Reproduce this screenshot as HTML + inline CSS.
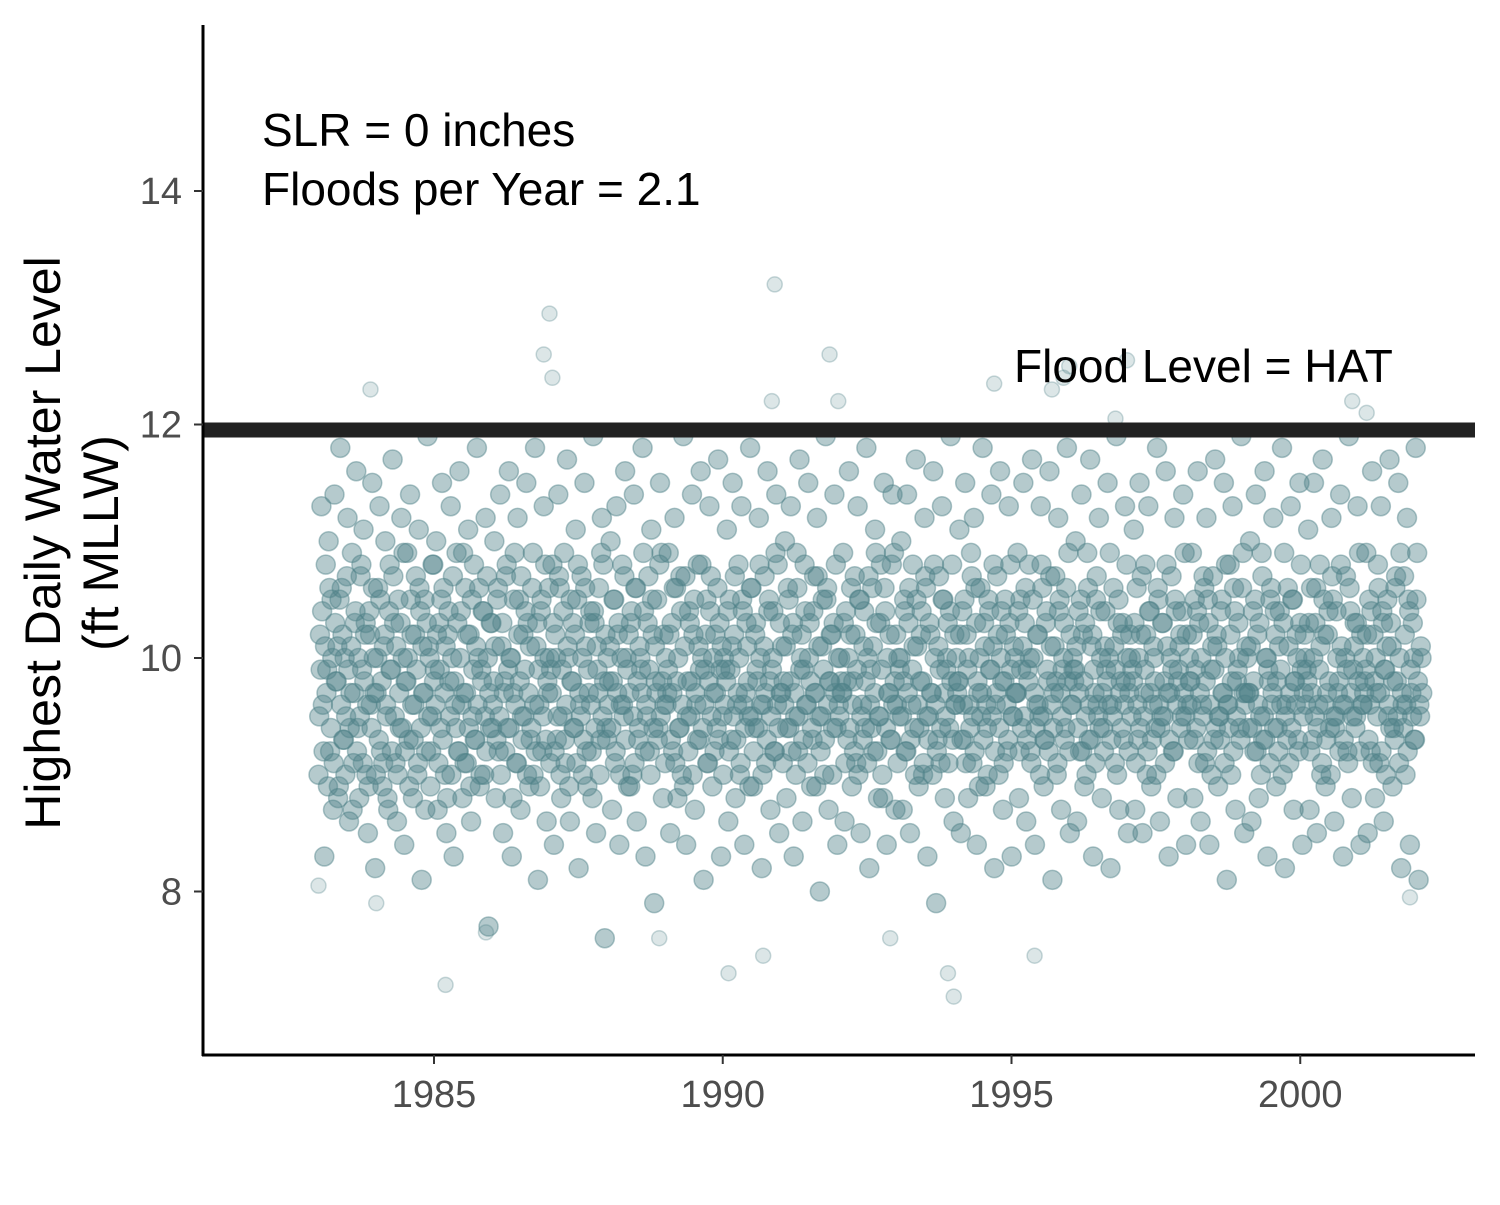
<!DOCTYPE html>
<html><head><meta charset="utf-8"><style>
html,body{margin:0;padding:0;background:#fff;}
svg text{font-family:"Liberation Sans",Arial,sans-serif;}
</style></head><body>
<svg id="chart" width="1500" height="1200" viewBox="0 0 1500 1200" xmlns="http://www.w3.org/2000/svg">
<g id="points"></g>
<line x1="203" x2="1475" y1="430" y2="430" stroke="#222" stroke-width="15"/>
<line x1="203" x2="203" y1="25" y2="1056" stroke="#000" stroke-width="3"/>
<line x1="202" x2="1475" y1="1055" y2="1055" stroke="#000" stroke-width="3"/>
<g id="yticks"></g>
<g id="xticks"></g>
<text x="262" y="146" font-size="46" fill="#000">SLR = 0 inches</text>
<text x="262" y="205" font-size="46" fill="#000">Floods per Year = 2.1</text>
<text x="1014" y="382" font-size="46" fill="#000">Flood Level = HAT</text>
<text transform="translate(60,543) rotate(-90)" text-anchor="middle" font-size="50" fill="#000">Highest Daily Water Level</text>
<text transform="translate(118,543) rotate(-90)" text-anchor="middle" font-size="50" fill="#000">(ft MLLW)</text>
</svg>
<script>
const yTicks=[8,10,12,14];
const xTicks=[1985,1990,1995,2000];
const startYear=1983.0;
const endYear=2002.1;
const values=[
9.0,10.2,11.3,9.6,8.3,10.8,9.9,11.0,9.2,10.5,8.7,11.4,9.8,10.1,8.9,11.8,10.6,9.3,10.0,9.5,11.2,8.6,9.7,10.9,9.1,10.3,11.6,9.4,8.8,10.7,9.9,11.1,10.2,9.0,8.5,10.4,9.6,11.5,10.0,8.2,
9.7,10.6,11.3,9.2,8.9,10.1,11.0,9.5,8.7,10.8,9.9,11.7,10.3,9.1,8.6,10.5,9.4,11.2,10.0,8.4,9.8,10.9,9.3,11.4,10.2,8.8,9.6,10.7,9.0,11.1,10.4,8.1,9.7,10.5,9.2,11.9,10.1,8.9,9.5,10.8,
9.9,11.0,8.7,10.3,9.4,11.5,10.6,9.0,8.5,10.2,9.8,11.3,10.0,8.3,9.6,10.9,9.2,11.6,10.4,8.8,9.7,10.6,9.1,11.1,10.2,8.6,9.5,10.8,9.3,11.8,10.0,8.9,9.9,10.4,9.0,11.2,10.7,7.7,9.4,10.3,
9.6,11.0,8.8,10.5,9.2,11.4,10.1,8.5,9.8,10.7,9.4,11.6,10.0,8.3,9.7,10.9,9.1,11.2,10.5,8.7,9.5,10.2,9.9,11.5,10.3,8.9,9.3,10.6,9.0,11.8,10.1,8.1,9.6,10.4,9.2,11.3,10.8,8.6,9.7,10.0,
9.9,10.8,8.4,10.2,9.3,11.4,10.6,8.8,9.5,10.9,9.1,11.7,10.0,8.6,9.8,10.3,9.4,11.1,10.5,8.2,9.6,10.7,9.0,11.5,10.1,8.9,9.7,10.4,9.2,11.9,10.3,8.5,9.9,10.6,9.3,11.2,10.8,7.6,9.4,10.0,
9.8,11.0,8.7,10.5,9.1,11.3,10.2,8.4,9.6,10.8,9.5,11.6,10.0,8.9,9.7,10.3,9.0,11.4,10.6,8.6,9.3,10.1,9.9,11.8,10.4,8.3,9.5,10.7,9.2,11.1,10.2,7.9,9.8,10.5,9.4,11.5,10.9,8.8,9.6,10.0,
9.7,10.9,8.5,10.3,9.2,11.2,10.6,8.8,9.4,10.7,9.0,11.9,10.1,8.4,9.8,10.4,9.5,11.4,10.2,8.7,9.6,10.8,9.3,11.6,10.0,8.1,9.9,10.5,9.1,11.3,10.7,8.9,9.7,10.2,9.4,11.7,10.3,8.3,9.5,10.0,
9.9,11.1,8.6,10.5,9.3,11.5,10.2,8.8,9.6,10.8,9.0,11.3,10.4,8.4,9.7,10.1,9.5,11.8,10.6,8.9,9.4,10.3,9.8,11.2,10.0,8.2,9.6,10.7,9.1,11.6,10.5,8.7,9.9,10.4,9.2,11.4,10.8,8.5,9.7,10.1,
9.8,11.0,8.8,10.6,9.4,11.3,10.2,8.3,9.5,10.9,9.2,11.7,10.0,8.6,9.9,10.4,9.6,11.5,10.3,8.9,9.3,10.7,9.7,11.2,10.1,8.0,9.5,10.5,9.0,11.9,10.6,8.7,9.8,10.2,9.4,11.4,10.8,8.4,9.6,10.0,
9.7,10.9,8.6,10.4,9.3,11.6,10.2,8.9,9.8,10.7,9.1,11.3,10.5,8.5,9.6,10.1,9.4,11.8,10.0,8.2,9.9,10.6,9.2,11.1,10.3,8.8,9.5,10.8,9.0,11.5,10.4,8.4,9.7,10.2,9.3,11.4,10.9,8.7,9.6,10.0,
9.9,11.0,8.7,10.5,9.2,11.4,10.3,8.5,9.6,10.8,9.4,11.7,10.1,8.9,9.8,10.4,9.0,11.2,10.6,8.3,9.5,10.2,9.7,11.6,10.0,7.9,9.3,10.7,9.1,11.3,10.5,8.8,9.9,10.3,9.4,11.9,10.8,8.6,9.6,10.0,
9.8,11.1,8.5,10.4,9.3,11.5,10.2,8.8,9.6,10.9,9.1,11.2,10.6,8.4,9.7,10.0,9.5,11.8,10.3,8.9,9.4,10.5,9.9,11.4,10.1,8.2,9.6,10.7,9.0,11.6,10.4,8.7,9.8,10.2,9.2,11.3,10.8,8.3,9.5,10.0,
9.7,10.9,8.8,10.5,9.4,11.5,10.3,8.6,9.9,10.8,9.2,11.7,10.0,8.4,9.6,10.2,9.5,11.3,10.6,8.9,9.3,10.4,9.8,11.6,10.1,8.1,9.7,10.7,9.0,11.2,10.5,8.7,9.9,10.3,9.4,11.8,10.9,8.5,9.6,10.0,
9.8,11.0,8.6,10.4,9.2,11.4,10.2,8.9,9.5,10.9,9.3,11.7,10.1,8.3,9.7,10.5,9.6,11.2,10.4,8.8,9.4,10.1,9.9,11.5,10.0,8.2,9.6,10.6,9.1,11.9,10.3,8.7,9.8,10.2,9.3,11.3,10.8,8.5,9.7,10.0,
9.9,11.1,8.7,10.6,9.3,11.5,10.2,8.5,9.7,10.8,9.0,11.3,10.4,8.9,9.6,10.0,9.4,11.8,10.5,8.6,9.5,10.3,9.8,11.6,10.1,8.3,9.7,10.7,9.2,11.2,10.4,8.8,9.9,10.2,9.5,11.4,10.9,8.4,9.6,10.0,
9.8,10.9,8.8,10.5,9.4,11.6,10.3,8.6,9.6,10.7,9.1,11.2,10.5,8.4,9.9,10.1,9.3,11.7,10.2,8.9,9.5,10.4,9.7,11.5,10.0,8.1,9.6,10.8,9.0,11.3,10.6,8.7,9.8,10.3,9.4,11.9,10.9,8.5,9.7,10.0,
9.7,11.0,8.6,10.4,9.2,11.4,10.2,8.8,9.5,10.9,9.3,11.6,10.0,8.3,9.8,10.5,9.6,11.2,10.4,8.9,9.4,10.1,9.9,11.8,10.3,8.2,9.6,10.6,9.1,11.3,10.5,8.7,9.8,10.2,9.3,11.5,10.8,8.4,9.7,10.0,
9.9,11.1,8.7,10.6,9.3,11.5,10.3,8.5,9.6,10.8,9.0,11.7,10.2,8.9,9.7,10.4,9.4,11.2,10.5,8.6,9.5,10.0,9.8,11.4,10.1,8.3,9.6,10.7,9.2,11.9,10.4,8.8,9.9,10.3,9.5,11.3,10.9,8.4,9.6,10.0,
9.8,10.9,8.5,10.5,9.2,11.6,10.2,8.8,9.7,10.8,9.1,11.3,10.4,8.6,9.9,10.1,9.5,11.7,10.3,8.9,9.4,10.6,9.8,11.5,10.0,8.2,9.6,10.7,9.0,11.2,10.5,8.4,9.7,10.3,9.3,11.8,10.9,8.1,9.5,10.0
];
const valuesB=[
9.5,9.9,10.4,9.2,10.1,9.7,8.9,10.6,9.4,10.0,9.1,10.3,9.8,8.8,10.5,9.6,10.2,9.3,9.0,10.7,9.9,9.4,10.1,8.7,9.7,10.4,9.2,10.0,9.5,10.8,9.1,9.8,10.3,9.6,8.9,10.2,9.4,10.6,9.7,9.0,
10.0,9.3,10.5,9.8,9.1,10.2,9.6,8.8,10.4,9.9,9.2,10.7,9.5,10.1,9.0,9.7,10.3,9.4,10.9,9.2,9.8,10.0,8.9,10.5,9.6,9.3,10.2,9.9,9.1,10.6,9.4,10.1,9.7,8.7,10.3,9.5,10.0,9.2,10.8,9.8,
9.6,10.2,9.1,9.9,10.5,9.3,9.7,10.1,8.8,10.4,9.5,9.0,10.7,9.8,9.4,10.3,9.2,10.0,9.6,10.9,9.1,9.7,10.2,9.4,8.9,10.5,9.9,9.3,10.1,9.6,10.6,9.0,9.8,10.4,9.5,9.2,10.0,9.7,10.3,9.4,
9.8,10.1,9.3,10.6,9.5,9.0,10.3,9.7,9.2,10.8,9.9,9.4,10.0,8.8,10.5,9.6,9.1,10.2,9.8,10.7,9.3,9.5,10.4,9.0,9.7,10.1,9.4,10.9,9.6,9.2,10.3,9.9,8.9,10.5,9.5,10.0,9.3,9.8,10.6,9.1,
9.7,10.3,9.2,10.0,9.5,10.7,9.0,9.9,10.4,9.3,9.6,10.1,8.9,10.5,9.8,9.4,10.2,9.1,10.8,9.7,9.5,10.0,9.3,10.6,9.2,9.9,10.3,9.6,8.8,10.4,9.4,10.1,9.7,9.0,10.9,9.5,9.8,10.2,9.3,9.6,
10.1,9.4,9.8,10.5,9.2,9.7,10.3,9.0,10.0,9.6,10.7,9.3,9.9,10.2,8.9,10.4,9.5,9.1,10.6,9.8,9.4,10.0,9.7,10.9,9.2,9.6,10.3,9.9,9.0,10.5,9.4,10.1,9.7,9.3,10.8,9.5,9.8,10.2,9.1,9.6,
9.9,10.2,9.3,9.7,10.6,9.1,9.8,10.0,9.4,10.4,9.6,8.9,10.7,9.5,9.2,10.3,9.8,9.0,10.5,9.7,9.3,10.1,9.9,10.8,9.4,9.6,10.2,9.1,9.8,10.4,9.5,10.0,9.2,9.7,10.6,9.3,9.9,10.1,9.0,9.6,
9.8,10.4,9.2,9.9,10.1,9.5,10.7,9.3,9.7,10.0,9.1,10.5,9.6,9.4,10.3,9.8,8.9,10.6,9.5,9.2,10.2,9.9,9.4,10.8,9.6,9.0,10.1,9.7,9.3,10.4,9.8,9.5,10.0,9.2,10.9,9.6,9.4,10.3,9.7,9.1,
9.6,10.1,9.4,10.5,9.8,9.2,10.3,9.7,9.0,10.6,9.5,9.9,10.2,9.3,10.8,9.6,9.1,10.0,9.8,9.4,10.4,9.7,8.9,10.7,9.5,9.2,10.1,9.9,9.3,10.5,9.6,9.8,10.2,9.0,10.3,9.7,9.4,10.0,9.5,9.8,
9.7,10.3,9.1,9.8,10.0,9.4,10.6,9.6,9.2,10.2,9.9,9.0,10.5,9.5,9.3,10.4,9.8,9.1,10.7,9.6,9.4,10.1,9.7,10.9,9.2,9.5,10.3,9.9,8.8,10.6,9.4,10.0,9.7,9.3,10.8,9.6,9.8,10.2,9.1,9.5,
10.0,9.5,9.8,10.4,9.2,9.7,10.6,9.3,9.9,10.1,9.0,10.5,9.6,9.4,10.2,9.8,9.1,10.7,9.5,9.3,10.3,9.7,9.0,10.8,9.6,9.2,10.1,9.9,9.4,10.5,9.7,9.5,10.0,9.1,10.4,9.8,9.3,10.2,9.6,9.7,
9.8,10.2,9.3,9.6,10.5,9.1,9.9,10.0,9.4,10.7,9.5,9.2,10.3,9.8,8.9,10.6,9.7,9.3,10.1,9.6,9.0,10.4,9.9,9.5,10.8,9.2,9.7,10.2,9.4,10.0,9.8,9.1,10.5,9.6,9.3,10.3,9.9,9.5,10.1,9.7,
9.7,10.4,9.2,9.9,10.1,9.5,10.6,9.3,9.8,10.0,9.1,10.5,9.7,9.4,10.2,9.6,9.0,10.8,9.5,9.3,10.3,9.9,9.2,10.7,9.6,9.4,10.1,9.8,9.1,10.4,9.7,9.5,10.0,9.3,10.6,9.8,9.2,10.2,9.6,9.9,
9.9,10.1,9.4,9.7,10.5,9.2,9.8,10.3,9.0,10.6,9.6,9.3,10.2,9.9,9.1,10.7,9.5,9.4,10.0,9.7,9.2,10.4,9.8,9.6,10.9,9.3,9.5,10.1,9.9,9.0,10.5,9.7,9.4,10.3,9.6,9.8,10.0,9.2,10.2,9.5,
9.8,10.3,9.1,9.6,10.0,9.4,10.7,9.5,9.9,10.2,9.2,10.4,9.7,9.3,10.1,9.8,9.0,10.6,9.6,9.4,10.3,9.5,9.1,10.8,9.7,9.3,10.0,9.9,9.2,10.5,9.6,9.8,10.1,9.4,10.4,9.7,9.5,10.2,9.3,9.8,
9.6,10.2,9.3,9.9,10.4,9.1,9.7,10.0,9.5,10.6,9.8,9.2,10.3,9.6,9.0,10.7,9.9,9.4,10.1,9.5,9.3,10.5,9.7,9.1,10.8,9.6,9.4,10.2,9.8,9.2,10.4,9.5,9.9,10.0,9.3,10.6,9.7,9.6,10.1,9.4,
9.7,10.1,9.4,9.8,10.5,9.2,9.6,10.3,9.0,10.7,9.5,9.3,10.0,9.9,9.1,10.6,9.7,9.4,10.2,9.8,9.2,10.4,9.6,9.0,10.9,9.5,9.3,10.1,9.7,9.4,10.5,9.8,9.6,10.0,9.2,10.3,9.9,9.5,10.2,9.6,
9.8,10.3,9.2,9.7,10.0,9.5,10.6,9.4,9.9,10.1,9.1,10.5,9.6,9.3,10.2,9.8,9.0,10.7,9.5,9.4,10.4,9.7,9.2,10.8,9.6,9.3,10.0,9.9,9.1,10.6,9.7,9.5,10.1,9.4,10.3,9.8,9.2,10.2,9.6,9.7,
9.9,10.2,9.3,9.6,10.4,9.1,9.8,10.0,9.5,10.6,9.7,9.2,10.3,9.9,9.0,10.5,9.6,9.4,10.1,9.8,9.3,10.7,9.5,9.1,10.9,9.7,9.4,10.2,9.6,9.2,10.4,9.9,9.5,10.0,9.3,10.5,9.8,9.6,10.1,9.7
];
const outlierYears=[1983.9,1987.0,1986.9,1987.05,1990.9,1990.85,1991.85,1992.0,1994.7,1996.0,1995.9,1997.0,2000.9,2001.15,1985.2,1990.1,1990.7,1994.0,1993.9,1995.4,1992.9,1988.9,1985.9,1984.0,1983.0,2001.9,1995.7,1996.8];
const outlierValues=[12.3,12.95,12.6,12.4,13.2,12.2,12.6,12.2,12.35,12.5,12.4,12.55,12.2,12.1,7.2,7.3,7.45,7.1,7.3,7.45,7.6,7.6,7.65,7.9,8.05,7.95,12.3,12.05];

const X=y=>434+(y-1985)*57.75;
const Y=v=>658-(v-10)*116.75;
const NS="http://www.w3.org/2000/svg";
const pg=document.getElementById('points');
function dot(xv,yv){
  const c=document.createElementNS(NS,'circle');
  
  
  c.setAttribute('cx',X(xv));c.setAttribute('cy',Y(yv));c.setAttribute('r',7.5);
  c.setAttribute('fill','rgba(78,128,136,0.2)');
  c.setAttribute('stroke','rgba(78,128,136,0.3)');c.setAttribute('stroke-width','1.5');
  pg.appendChild(c);
}
function dotBig(xv,yv){
  const c=document.createElementNS(NS,'circle');
  
  
  c.setAttribute('cx',X(xv));c.setAttribute('cy',Y(yv));c.setAttribute('r',9.5);
  c.setAttribute('fill','rgba(78,128,136,0.42)');
  c.setAttribute('stroke','rgba(78,128,136,0.45)');c.setAttribute('stroke-width','1.5');
  pg.appendChild(c);
}
const step=(endYear-startYear)/(values.length-1);
values.forEach((v,i)=>dotBig(startYear+i*step,v));
const stepB=(endYear-startYear)/(valuesB.length-1);
valuesB.forEach((v,i)=>dotBig(startYear+(i+0.5)*stepB,v));
outlierYears.forEach((y,i)=>dot(y,outlierValues[i]));

const yt=document.getElementById('yticks');
yTicks.forEach(t=>{
  const l=document.createElementNS(NS,'line');
  
  
  l.setAttribute('x1',194);l.setAttribute('x2',203);l.setAttribute('y1',Y(t));l.setAttribute('y2',Y(t));
  l.setAttribute('stroke','#333');l.setAttribute('stroke-width','2');yt.appendChild(l);
  const tx=document.createElementNS(NS,'text');
  
  
  tx.setAttribute('x',182);tx.setAttribute('y',Y(t)+13);tx.setAttribute('text-anchor','end');
  tx.setAttribute('font-size','38');tx.setAttribute('fill','#4d4d4d');tx.textContent=t;yt.appendChild(tx);
});
const xt=document.getElementById('xticks');
xTicks.forEach(t=>{
  const l=document.createElementNS(NS,'line');
  
  
  l.setAttribute('x1',X(t));l.setAttribute('x2',X(t));l.setAttribute('y1',1055);l.setAttribute('y2',1064);
  l.setAttribute('stroke','#333');l.setAttribute('stroke-width','2');xt.appendChild(l);
  const tx=document.createElementNS(NS,'text');
  
  
  tx.setAttribute('x',X(t));tx.setAttribute('y',1107);tx.setAttribute('text-anchor','middle');
  tx.setAttribute('font-size','38');tx.setAttribute('fill','#4d4d4d');tx.textContent=t;xt.appendChild(tx);
});
</script>
</body></html>
